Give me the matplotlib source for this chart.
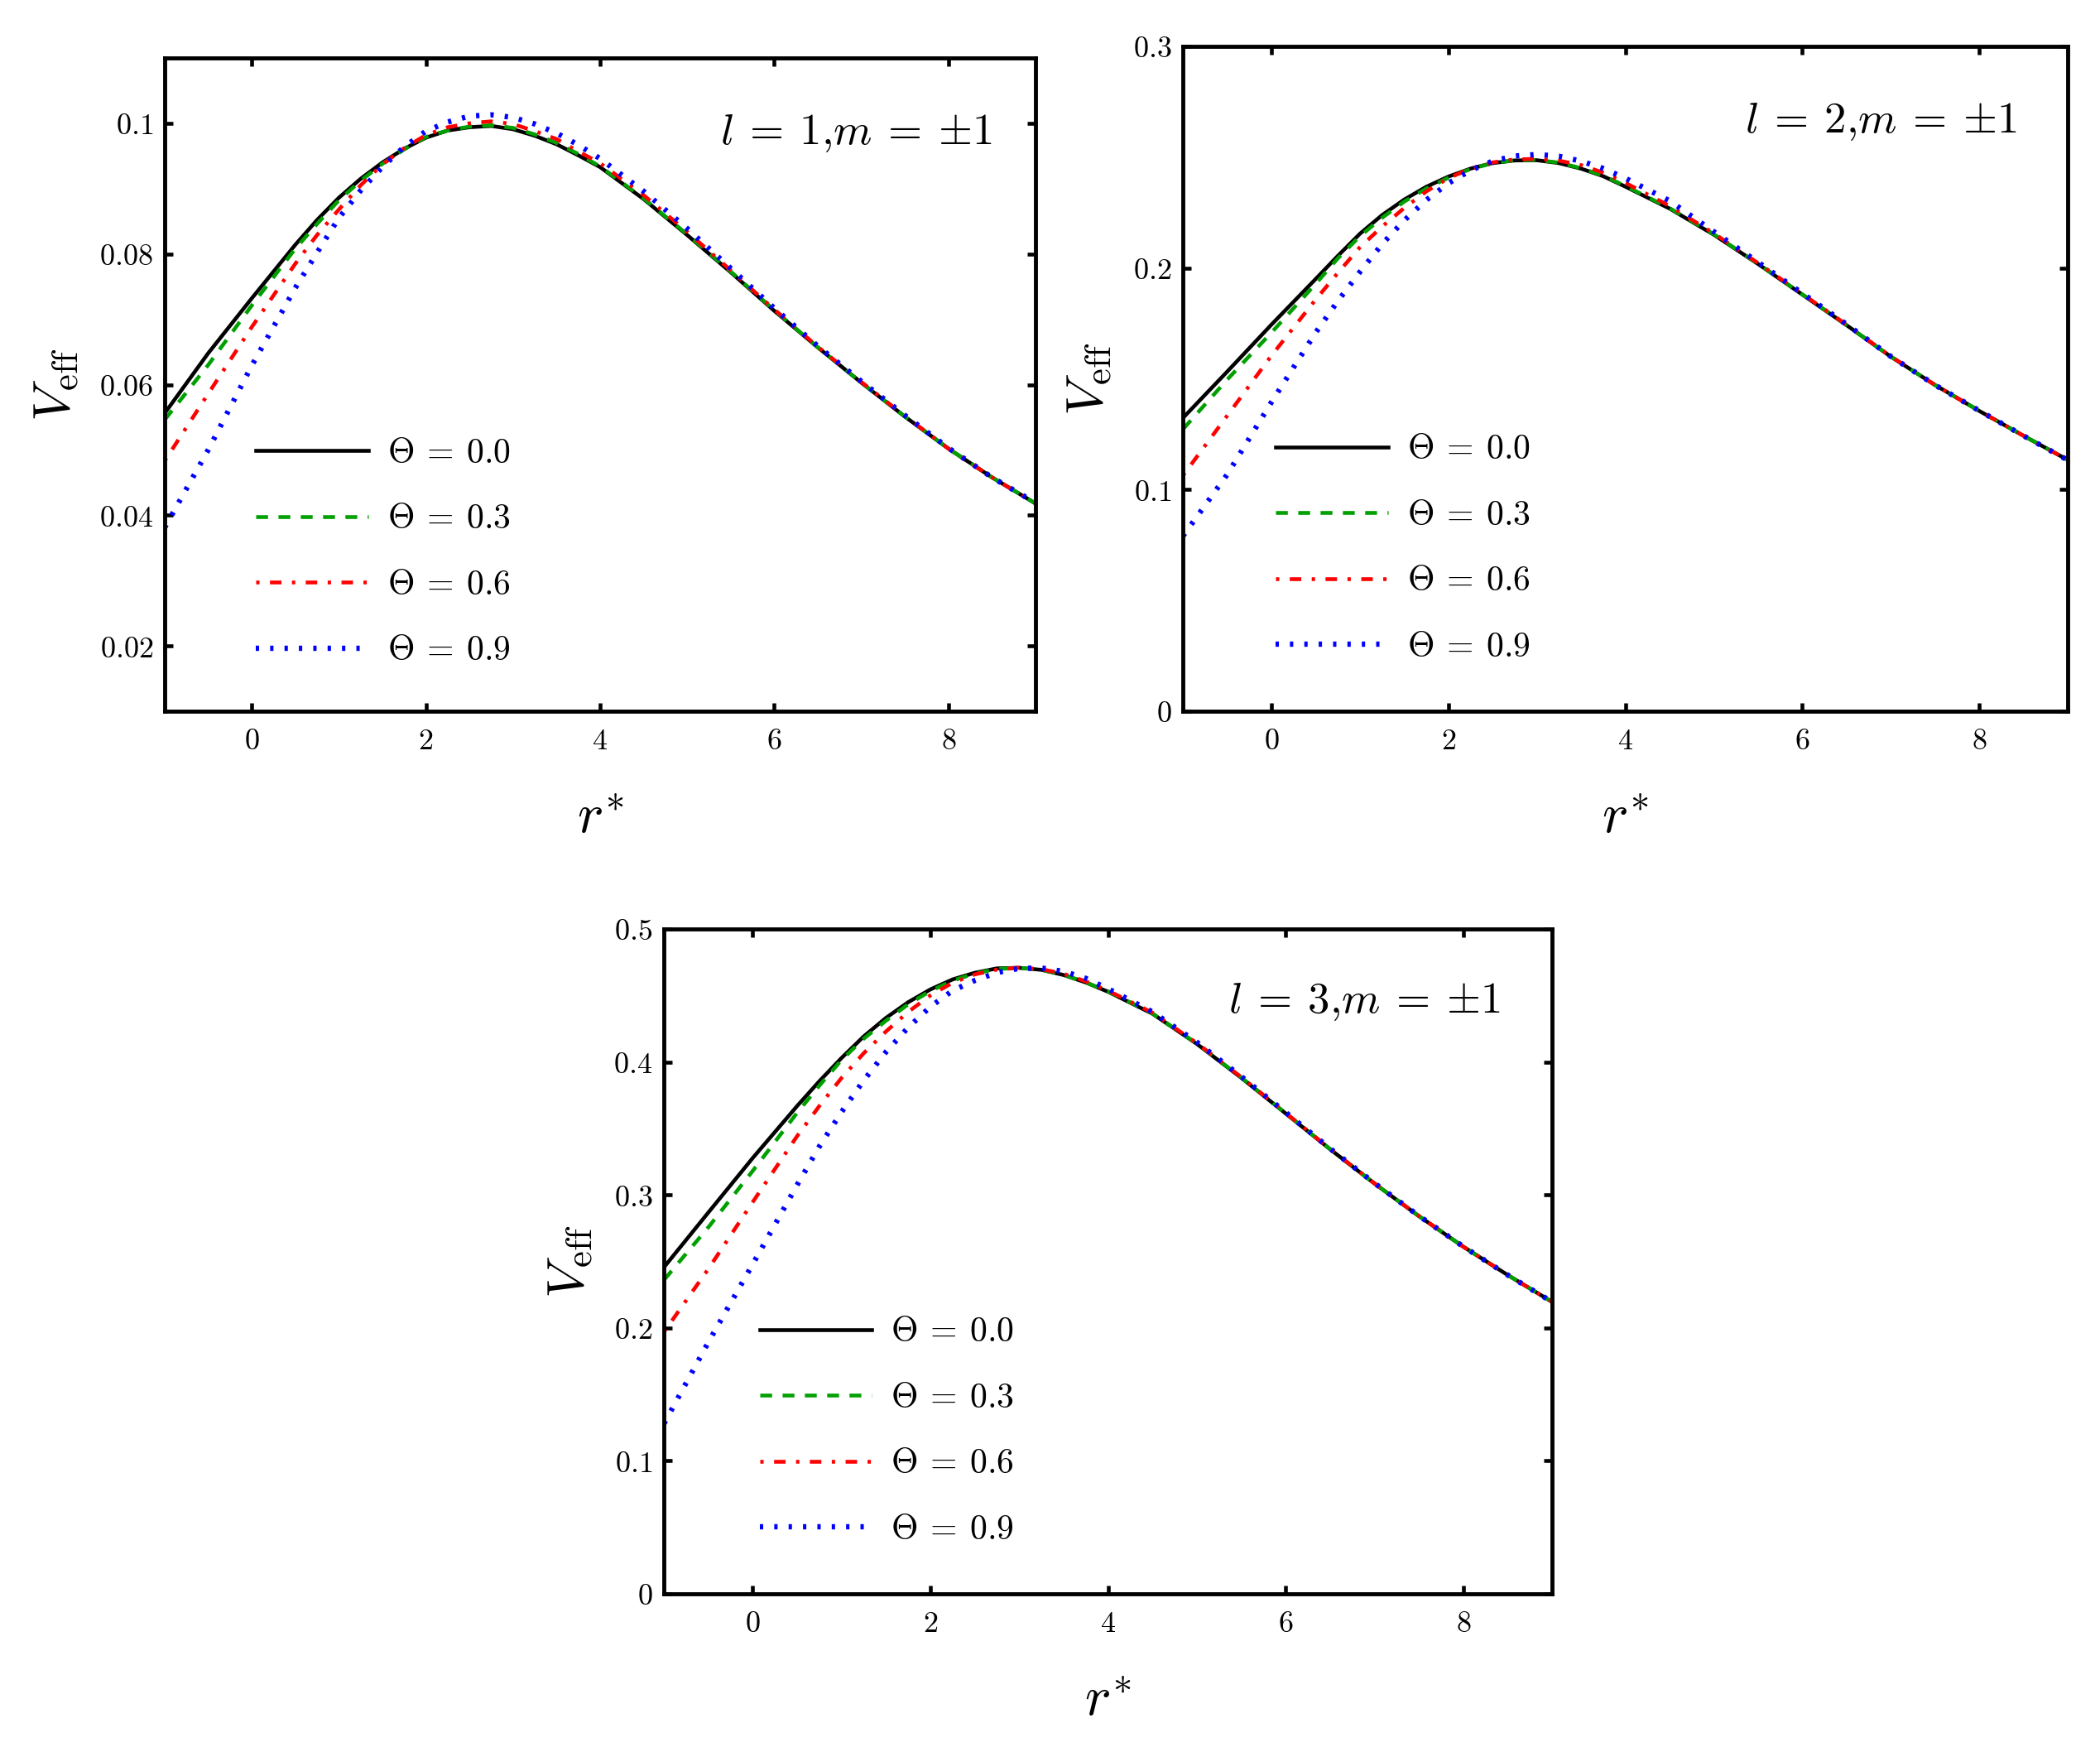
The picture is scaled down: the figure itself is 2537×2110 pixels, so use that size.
import numpy as np
import matplotlib
matplotlib.use("Agg")
import matplotlib.pyplot as plt
from matplotlib.ticker import FuncFormatter, MultipleLocator

plt.rcParams['mathtext.fontset'] = 'cm'
plt.rcParams['lines.scale_dashes'] = False

# tortoise coordinate grid shared by all panels (denser around the peak)
r_star = [-1, -0.5, 0, 0.5, 0.75, 1, 1.25, 1.5, 1.75, 2, 2.25, 2.5, 2.75, 3, 3.25, 3.5, 3.75, 4,
          4.5, 5, 5.5, 6, 6.5, 7, 7.5, 8, 8.5, 9]
thetas = ["0.0", "0.3", "0.6", "0.9"]

# l = 1, m = +-1
v_l1_t00 = [0.0556, 0.0648, 0.0732, 0.0814, 0.0852, 0.0886, 0.0915, 0.0940, 0.0961, 0.0978, 0.0989,
            0.0994, 0.0996, 0.0991, 0.0981, 0.0968, 0.0951, 0.0933,
            0.0884, 0.0829, 0.0772, 0.0713, 0.0657, 0.0603, 0.0551, 0.0502, 0.0458, 0.0418]
v_l1_t03 = [0.0546, 0.0630, 0.0721, 0.0808, 0.0846, 0.0882, 0.0912, 0.0938, 0.0960, 0.0979, 0.0989,
            0.0995, 0.0997, 0.0993, 0.0983, 0.0970, 0.0953, 0.0934,
            0.0885, 0.0830, 0.0773, 0.0714, 0.0657, 0.0603, 0.0551, 0.0502, 0.0458, 0.0418]
v_l1_t06 = [0.0483, 0.0586, 0.0688, 0.0785, 0.0829, 0.0868, 0.0905, 0.0937, 0.0962, 0.0982, 0.0994,
            0.1000, 0.1003, 0.0999, 0.0988, 0.0976, 0.0957, 0.0939,
            0.0890, 0.0834, 0.0775, 0.0715, 0.0658, 0.0604, 0.0552, 0.0502, 0.0458, 0.0418]
v_l1_t09 = [0.0381, 0.0500, 0.0629, 0.0748, 0.0802, 0.0855, 0.0897, 0.0933, 0.0964, 0.0988, 0.1002,
            0.1011, 0.1013, 0.1009, 0.0999, 0.0985, 0.0967, 0.0946,
            0.0896, 0.0839, 0.0778, 0.0717, 0.0659, 0.0605, 0.0553, 0.0503, 0.0458, 0.0419]

# l = 2, m = +-1
v_l2_t00 = [0.1323, 0.1532, 0.1744, 0.1950, 0.2054, 0.2154, 0.2238, 0.2308, 0.2366, 0.2412, 0.2448,
            0.2473, 0.2485, 0.2486, 0.2473, 0.2448, 0.2414, 0.2367,
            0.2268, 0.2150, 0.2018, 0.1880, 0.1742, 0.1600, 0.1472, 0.1355, 0.1243, 0.1134]
v_l2_t03 = [0.1272, 0.1496, 0.1708, 0.1928, 0.2043, 0.2143, 0.2226, 0.2299, 0.2358, 0.2407, 0.2446,
            0.2473, 0.2486, 0.2487, 0.2475, 0.2450, 0.2416, 0.2370,
            0.2270, 0.2152, 0.2019, 0.1881, 0.1742, 0.1600, 0.1472, 0.1355, 0.1243, 0.1134]
v_l2_t06 = [0.1063, 0.1333, 0.1604, 0.1857, 0.1977, 0.2093, 0.2186, 0.2270, 0.2345, 0.2405, 0.2448,
            0.2476, 0.2490, 0.2492, 0.2484, 0.2464, 0.2430, 0.2384,
            0.2280, 0.2156, 0.2022, 0.1883, 0.1744, 0.1601, 0.1472, 0.1355, 0.1243, 0.1134]
v_l2_t09 = [0.0790, 0.1068, 0.1394, 0.1708, 0.1850, 0.1982, 0.2107, 0.2214, 0.2306, 0.2382, 0.2440,
            0.2482, 0.2505, 0.2512, 0.2504, 0.2482, 0.2449, 0.2405,
            0.2303, 0.2164, 0.2026, 0.1886, 0.1746, 0.1601, 0.1472, 0.1356, 0.1243, 0.1133]

# l = 3, m = +-1
v_l3_t00 = [0.2456, 0.2868, 0.3278, 0.3669, 0.3855, 0.4030, 0.4192, 0.4331, 0.4449, 0.4545, 0.4620,
            0.4670, 0.4703, 0.4707, 0.4692, 0.4653, 0.4597, 0.4527,
            0.4362, 0.4135, 0.3880, 0.3612, 0.3343, 0.3085, 0.2840, 0.2610, 0.2397, 0.2195]
v_l3_t03 = [0.2360, 0.2757, 0.3181, 0.3618, 0.3822, 0.4015, 0.4175, 0.4310, 0.4433, 0.4533, 0.4611,
            0.4665, 0.4698, 0.4707, 0.4693, 0.4655, 0.4597, 0.4530,
            0.4364, 0.4137, 0.3882, 0.3613, 0.3344, 0.3085, 0.2840, 0.2610, 0.2397, 0.2195]
v_l3_t06 = [0.1969, 0.2444, 0.2947, 0.3443, 0.3669, 0.3880, 0.4066, 0.4229, 0.4376, 0.4500, 0.4595,
            0.4658, 0.4694, 0.4709, 0.4697, 0.4662, 0.4605, 0.4535,
            0.4370, 0.4141, 0.3885, 0.3616, 0.3345, 0.3086, 0.2841, 0.2610, 0.2397, 0.2195]
v_l3_t09 = [0.1280, 0.1893, 0.2480, 0.3076, 0.3365, 0.3624, 0.3862, 0.4075, 0.4259, 0.4415, 0.4536,
            0.4612, 0.4672, 0.4703, 0.4706, 0.4680, 0.4628, 0.4550,
            0.4376, 0.4148, 0.3890, 0.3620, 0.3348, 0.3088, 0.2842, 0.2611, 0.2397, 0.2195]

panels = [
    ("1", [v_l1_t00, v_l1_t03, v_l1_t06, v_l1_t09], (0.01, 0.11), 0.02),
    ("2", [v_l2_t00, v_l2_t03, v_l2_t06, v_l2_t09], (0.0, 0.3), 0.1),
    ("3", [v_l3_t00, v_l3_t03, v_l3_t06, v_l3_t09], (0.0, 0.5), 0.1),
]

styles = [
    dict(color="black", lw=3.3, ls="-"),
    dict(color="#00a000", lw=3.3, ls=(0, (10.3, 9.1))),
    dict(color="red", lw=3.3, ls=(0, (2.9, 9.1, 10.0, 9.1))),
    dict(color="blue", lw=4.6, ls=(0, (2.9, 9.6))),
]

# axes boxes in figure fractions
boxes = [
    [0.0784, 0.5929, 0.4147, 0.3739],
    [0.5633, 0.5929, 0.4213, 0.3806],
    [0.3162, 0.0877, 0.4229, 0.3806],
]
note_pos = [(0.950, 0.868), (0.943, 0.870), (0.942, 0.874)]
leg_pos = [(0.105, 0.067), (0.105, 0.071), (0.1075, 0.071)]

fig = plt.figure(figsize=(25.37, 21.10), dpi=100)

for (l, series, ylim, ystep), box, npos, lpos in zip(panels, boxes, note_pos, leg_pos):
    ax = fig.add_axes(box)
    for vals, th, st in zip(series, thetas, styles):
        ax.plot(r_star, vals, label=rf"$\Theta\:=\:{th}$", **st)

    ax.set_xlim(-1, 9)
    ax.set_ylim(*ylim)
    ax.xaxis.set_major_locator(MultipleLocator(2))
    ax.yaxis.set_major_locator(MultipleLocator(ystep))
    fmt = FuncFormatter(lambda v, p: f"${v:g}$")
    ax.xaxis.set_major_formatter(fmt)
    ax.yaxis.set_major_formatter(fmt)
    ax.tick_params(direction="in", length=7, width=3.3, top=True, right=True, labelsize=26)
    ax.tick_params(axis="x", pad=14)
    ax.tick_params(axis="y", pad=10)
    for sp in ax.spines.values():
        sp.set_linewidth(3.5)

    ax.set_xlabel(r"$r^{*}$", fontsize=48, labelpad=30)
    ax.set_ylabel(r"$V_{\rm eff}$", fontsize=46, labelpad=16)

    ax.text(npos[0], npos[1], rf"$l\:=\:{l}{{,}}m\:=\:{{\pm}}1$", transform=ax.transAxes,
            ha="right", va="baseline", fontsize=38)

    ax.legend(loc="lower left", bbox_to_anchor=lpos, frameon=False,
              fontsize=30, handlelength=3.25, handletextpad=0.55, labelspacing=0.9,
              borderpad=0, borderaxespad=0)

fig.savefig("out.png", dpi=100)
